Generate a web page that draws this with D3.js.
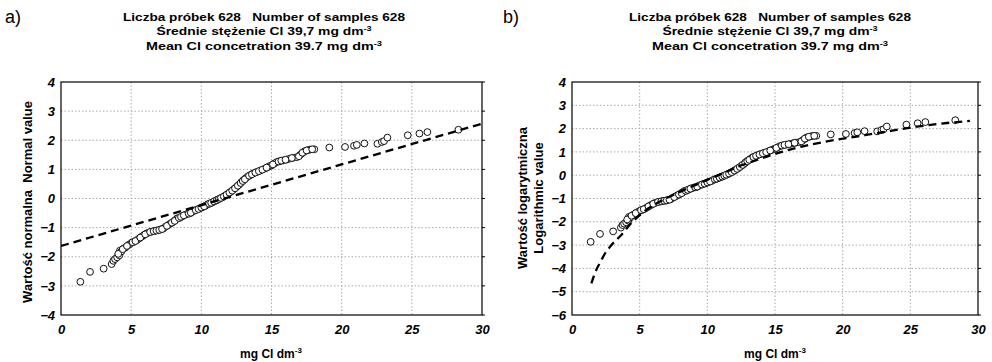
<!DOCTYPE html>
<html>
<head>
<meta charset="utf-8">
<script src="https://cdn.jsdelivr.net/npm/d3@7"></script>
<style>
  body { margin: 0; background: #fff; }
  text { font-family: Arial, "Liberation Sans", sans-serif; white-space: pre; }
</style>
</head>
<body>
<script>
var width = 992;
var height = 362;

// sample points: concentration vs. expected quantile (same in both panels)
var sampleX = [1.38, 2.07, 3.04, 3.61, 3.73, 3.85, 4.0, 4.16, 4.2, 4.3, 4.49, 4.6, 4.8, 4.9, 5.04, 5.2,
  5.4, 5.55, 5.75, 5.9, 6.1, 6.25, 6.46, 6.7, 6.94, 7.1, 7.3, 7.45, 7.65, 7.8, 8.0, 8.15, 8.29, 8.48,
  8.65, 8.85, 9.0, 9.19, 9.35, 9.5, 9.7, 9.9, 10.1, 10.3, 10.45, 10.62, 10.8, 11.0, 11.15, 11.33, 11.5,
  11.7, 11.92, 12.1, 12.3, 12.52, 12.7, 12.85, 13.0, 13.15, 13.3, 13.47, 13.7, 13.95, 14.2, 14.54, 14.75,
  14.9, 15.02, 15.2, 15.37, 15.6, 15.84, 16.1, 16.32, 16.55, 16.8, 17.0, 17.15, 17.3, 17.39, 17.6, 17.75,
  18.05, 19.12, 20.24, 20.88, 21.08, 21.62, 22.55, 22.86, 23.02, 23.26, 24.71, 25.54, 26.11, 28.32,
  4.08, 4.4, 4.7, 5.1, 5.3, 5.65, 6.0, 6.35, 6.6, 6.8, 7.0, 7.2, 7.55, 7.9, 8.1, 8.4, 8.55, 8.75, 9.1,
  9.25, 9.6, 9.8, 10.0, 10.2, 10.55, 10.7, 10.9, 11.1, 11.25, 11.4, 11.6, 11.8, 12.0, 12.2, 12.4, 12.6,
  12.8, 12.95, 13.1, 13.4, 13.6, 13.85, 14.1, 14.35, 14.65, 15.1, 15.5, 15.7, 16.0, 16.45, 16.95, 17.2,
  17.5, 17.9];
var sampleY = [-2.86, -2.52, -2.41, -2.25, -2.14, -2.08, -2.02, -1.95, -1.79, -1.82, -1.71, -1.68, -1.6,
  -1.57, -1.52, -1.49, -1.43, -1.38, -1.31, -1.26, -1.2, -1.17, -1.14, -1.11, -1.09, -1.06, -1.03, -0.97,
  -0.91, -0.86, -0.8, -0.74, -0.68, -0.66, -0.61, -0.56, -0.53, -0.51, -0.46, -0.42, -0.38, -0.34, -0.29,
  -0.25, -0.2, -0.17, -0.13, -0.08, -0.04, 0.0, 0.04, 0.1, 0.17, 0.23, 0.31, 0.4, 0.48, 0.56, 0.63, 0.69,
  0.75, 0.8, 0.86, 0.91, 0.96, 1.03, 1.08, 1.12, 1.14, 1.2, 1.25, 1.28, 1.31, 1.34, 1.37, 1.4, 1.42, 1.48,
  1.54, 1.6, 1.63, 1.66, 1.68, 1.69, 1.75, 1.77, 1.81, 1.84, 1.89, 1.88, 1.94, 1.97, 2.09, 2.17, 2.23,
  2.28, 2.36,
  -1.9, -1.74, -1.63, -1.5, -1.46, -1.34, -1.23, -1.15, -1.12, -1.1, -1.08, -1.05, -0.94, -0.83, -0.77,
  -0.67, -0.63, -0.58, -0.52, -0.49, -0.4, -0.36, -0.31, -0.27, -0.18, -0.15, -0.1, -0.06, -0.02, 0.02,
  0.07, 0.13, 0.2, 0.27, 0.35, 0.44, 0.53, 0.6, 0.66, 0.78, 0.83, 0.89, 0.94, 0.99, 1.06, 1.17, 1.27,
  1.3, 1.33, 1.39, 1.45, 1.57, 1.65, 1.69];

// expected line, normal distribution (panel a)
var normLineX = [0, 30];
var normLineY = [-1.63, 2.57];

// expected curve, log-normal distribution (panel b)
var logLineX = [1.43, 1.83, 2.05, 2.44, 2.81, 3.55, 4.54, 5.65, 7, 8.5, 10, 11.5, 12.5, 13.4, 14.4, 16.1,
  18.56, 21.03, 23.0, 25.47, 27.7, 29.4];
var logLineY = [-4.64, -4.02, -3.78, -3.36, -3.07, -2.62, -1.96, -1.42, -0.98, -0.58, -0.2, 0.17, 0.42,
  0.6, 0.8, 1.1, 1.42, 1.66, 1.85, 2.08, 2.24, 2.33];

var xTicks = [0, 5, 10, 15, 20, 25, 30];
var yTicksA = [-4, -3, -2, -1, 0, 1, 2, 3, 4];
var yTicksB = [-6, -5, -4, -3, -2, -1, 0, 1, 2, 3, 4];

var titleLines = ["Liczba próbek 628   Number of samples 628", "Średnie stężenie Cl 39,7 mg dm", "Mean Cl concetration 39.7 mg dm"];
var titleWidths = [282, 215, 236];

var svg = d3.select("body")
            .append("svg")
            .attr("width", width)
            .attr("height", height);

var drawPanel = function(p) {
  var x = d3.scaleLinear().domain([0, 30]).range([p.left, p.right]);
  var y = d3.scaleLinear().domain(p.yDomain).range([p.bottom, p.top]);
  var g = svg.append("g");

  // panel letter
  g.append("text")
    .attr("x", p.letterX).attr("y", 23)
    .style("font-size", "18px")
    .text(p.letter);

  // title, 3 lines
  titleLines.forEach(function(line, i) {
    var t = g.append("text")
      .attr("x", p.titleX).attr("y", 20.5 + i * 14.5)
      .attr("text-anchor", "middle")
      .attr("textLength", titleWidths[i])
      .attr("lengthAdjust", "spacingAndGlyphs")
      .attr("font-size", 11.5).attr("font-weight", "bold")
      .text(line);
    if (i > 0) {
      t.append("tspan").attr("dy", -4).attr("font-size", 7.5).text("-3");
    }
  });

  // grid
  g.selectAll(".gx").data(xTicks.slice(1, -1)).enter().append("line")
    .attr("x1", x).attr("x2", x).attr("y1", p.top).attr("y2", p.bottom)
    .attr("stroke", "#aaa").attr("stroke-dasharray", "1.5,2");
  g.selectAll(".gy").data(p.yTicks.slice(1, -1)).enter().append("line")
    .attr("x1", p.left).attr("x2", p.right).attr("y1", y).attr("y2", y)
    .attr("stroke", "#aaa").attr("stroke-dasharray", "1.5,2");

  // right side small ticks
  g.selectAll(".rt").data(p.yTicks).enter().append("line")
    .attr("x1", p.right).attr("x2", p.right + 3).attr("y1", y).attr("y2", y)
    .attr("stroke", "#000");

  // axes
  var xAxis = g.append("g").attr("transform", "translate(0," + p.bottom + ")")
    .call(d3.axisBottom(x).tickValues(xTicks).tickSize(0).tickPadding(10));
  var yAxis = g.append("g").attr("transform", "translate(" + p.left + ",0)")
    .call(d3.axisLeft(y).tickValues(p.yTicks).tickSize(0).tickPadding(6));
  [xAxis, yAxis].forEach(function(a) {
    a.select(".domain").remove();
    a.selectAll("text")
      .attr("fill", "#000")
      .style("font", "italic 700 13px 'Liberation Sans', Arial, sans-serif");
  });

  // frame
  g.append("rect")
    .attr("x", p.left).attr("y", p.top)
    .attr("width", p.right - p.left).attr("height", p.bottom - p.top)
    .attr("fill", "none").attr("stroke", "#000").attr("stroke-width", 1.2);

  // clip
  var clipId = "clip" + p.letter.charAt(0);
  svg.append("clipPath").attr("id", clipId).append("rect")
    .attr("x", p.left).attr("y", p.top)
    .attr("width", p.right - p.left).attr("height", p.bottom - p.top);

  // points
  g.selectAll(".pt").data(d3.zip(sampleX, sampleY)).enter().append("circle")
    .attr("cx", function(d) { return x(d[0]); })
    .attr("cy", function(d) { return y(d[1]); })
    .attr("r", 3.4)
    .attr("fill", "#fff").attr("stroke", "#111").attr("stroke-width", 1);

  // expected line
  var line = d3.line()
    .x(function(d) { return x(d[0]); })
    .y(function(d) { return y(d[1]); })
    .curve(d3.curveMonotoneX);
  g.append("path")
    .datum(d3.zip(p.lineX, p.lineY))
    .attr("clip-path", "url(#" + clipId + ")")
    .attr("d", line)
    .attr("fill", "none").attr("stroke", "#000")
    .attr("stroke-width", 2.3).attr("stroke-dasharray", "8,5");

  // x label
  var xl = g.append("text")
    .attr("x", p.xLabelX).attr("y", 358)
    .attr("text-anchor", "middle")
    .attr("font-size", 12).attr("font-weight", "bold")
    .text("mg Cl dm");
  xl.append("tspan").attr("dy", -5).attr("font-size", 8).text("-3");

  // y label
  p.yLabel.forEach(function(txt, i) {
    g.append("text")
      .attr("transform", "translate(" + (p.yLabelX + i * 16) + "," + p.yLabelY + ") rotate(-90)")
      .attr("text-anchor", "middle")
      .attr("font-size", 13).attr("font-weight", "bold")
      .text(txt);
  });
};

drawPanel({
  letter: "a)", letterX: 5, titleX: 264,
  left: 61, right: 482, top: 82, bottom: 315,
  yDomain: [-4, 4], yTicks: yTicksA,
  lineX: normLineX, lineY: normLineY,
  xLabelX: 271,
  yLabel: ["Wartość normalna  Normal value"], yLabelX: 31.5, yLabelY: 202
});

drawPanel({
  letter: "b)", letterX: 503, titleX: 770,
  left: 572, right: 978, top: 82, bottom: 315,
  yDomain: [-6, 4], yTicks: yTicksB,
  lineX: logLineX, lineY: logLineY,
  xLabelX: 775,
  yLabel: ["Wartość logarytmiczna", "Logarithmic value"], yLabelX: 526.5, yLabelY: 198
});
</script>
</body>
</html>
